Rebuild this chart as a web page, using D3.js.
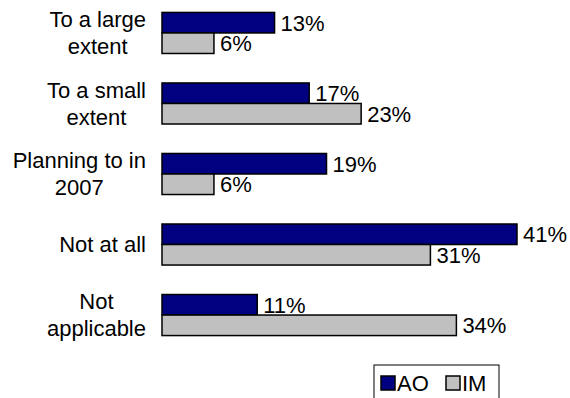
<!DOCTYPE html>
<html>
<head>
<meta charset="utf-8">
<script src="https://cdn.jsdelivr.net/npm/d3@7"></script>
<style>
  body { margin: 0; background: #fff; }
  svg { display: block; font-family: "Liberation Sans", Arial, sans-serif; }
</style>
</head>
<body>
<div id="chart"></div>
<script>
const categories = [
  ["To a large", "extent"],
  ["To a small", "extent"],
  ["Planning to in", "2007"],
  ["Not at all"],
  ["Not", "applicable"]
];
const seriesNames = ["AO", "IM"];
const aoValues = [13, 17, 19, 41, 11];
const imValues = [6, 23, 6, 31, 34];
const seriesColors = ["#000080", "#c0c0c0"];

(function chart() {
  const width = 570, height = 398;
  const svg = d3.select("#chart")
    .append("svg")
    .attr("width", width)
    .attr("height", height);

  const ids = categories.map((c, i) => i);
  const y = d3.scaleBand()
    .domain(ids)
    .range([-2.3, 350.3])
    .paddingInner(0.418)
    .paddingOuter(0.209);
  const ySub = d3.scaleBand()
    .domain(seriesNames)
    .range([0, y.bandwidth()]);
  const x = d3.scaleLinear()
    .domain([0, 41])
    .range([162, 517]);

  const rows = ids.map(i => ({ i, values: [aoValues[i], imValues[i]] }));

  const g = svg.append("g")
    .selectAll("g")
    .data(rows)
    .join("g")
    .attr("transform", d => `translate(0,${y(d.i)})`);

  g.selectAll("rect")
    .data(d => d.values.map((v, k) => ({ v, k })))
    .join("rect")
    .attr("x", x(0))
    .attr("y", d => ySub(seriesNames[d.k]))
    .attr("width", d => x(d.v) - x(0))
    .attr("height", ySub.bandwidth())
    .attr("fill", d => seriesColors[d.k])
    .attr("stroke", "#000")
    .attr("stroke-width", 1.5);

  g.selectAll("text.val")
    .data(d => d.values.map((v, k) => ({ v, k })))
    .join("text")
    .attr("class", "val")
    .attr("x", d => x(d.v) + 6)
    .attr("y", d => ySub(seriesNames[d.k]) + ySub.bandwidth() / 2)
    .attr("dy", "0.36em")
    .attr("font-size", 22)
    .text(d => d.v + "%");

  // category labels: lines centred on each other, block right-aligned
  const labelRight = 146;
  const lineH = 27;
  svg.append("g")
    .selectAll("text")
    .data(rows)
    .join("text")
    .attr("font-size", 22)
    .attr("text-anchor", "middle")
    .each(function (d) {
      const t = d3.select(this);
      const lines = categories[d.i];
      const cy = y(d.i) + y.bandwidth() / 2;
      const top = cy - (lines.length - 1) * lineH / 2;
      lines.forEach((line, j) => {
        t.append("tspan")
          .attr("y", top + j * lineH)
          .attr("dy", "0.36em")
          .text(line);
      });
      let maxW = 0;
      t.selectAll("tspan").each(function () {
        maxW = Math.max(maxW, this.getComputedTextLength());
      });
      t.selectAll("tspan").attr("x", labelRight - maxW / 2);
    });

  // legend
  const legend = svg.append("g").attr("transform", "translate(374,365)");
  legend.append("rect")
    .attr("x", 0).attr("y", 0)
    .attr("width", 125).attr("height", 40)
    .attr("fill", "#fff")
    .attr("stroke", "#000")
    .attr("stroke-width", 1);
  const items = legend.selectAll("g")
    .data(seriesNames)
    .join("g")
    .attr("transform", (d, k) => `translate(${7 + k * 65},11)`);
  items.append("rect")
    .attr("width", 14).attr("height", 14)
    .attr("fill", (d, k) => seriesColors[k])
    .attr("stroke", "#000")
    .attr("stroke-width", 1.5);
  items.append("text")
    .attr("x", 16)
    .attr("y", 7)
    .attr("dy", "0.36em")
    .attr("font-size", 22)
    .text(d => d);
})();
</script>
</body>
</html>
